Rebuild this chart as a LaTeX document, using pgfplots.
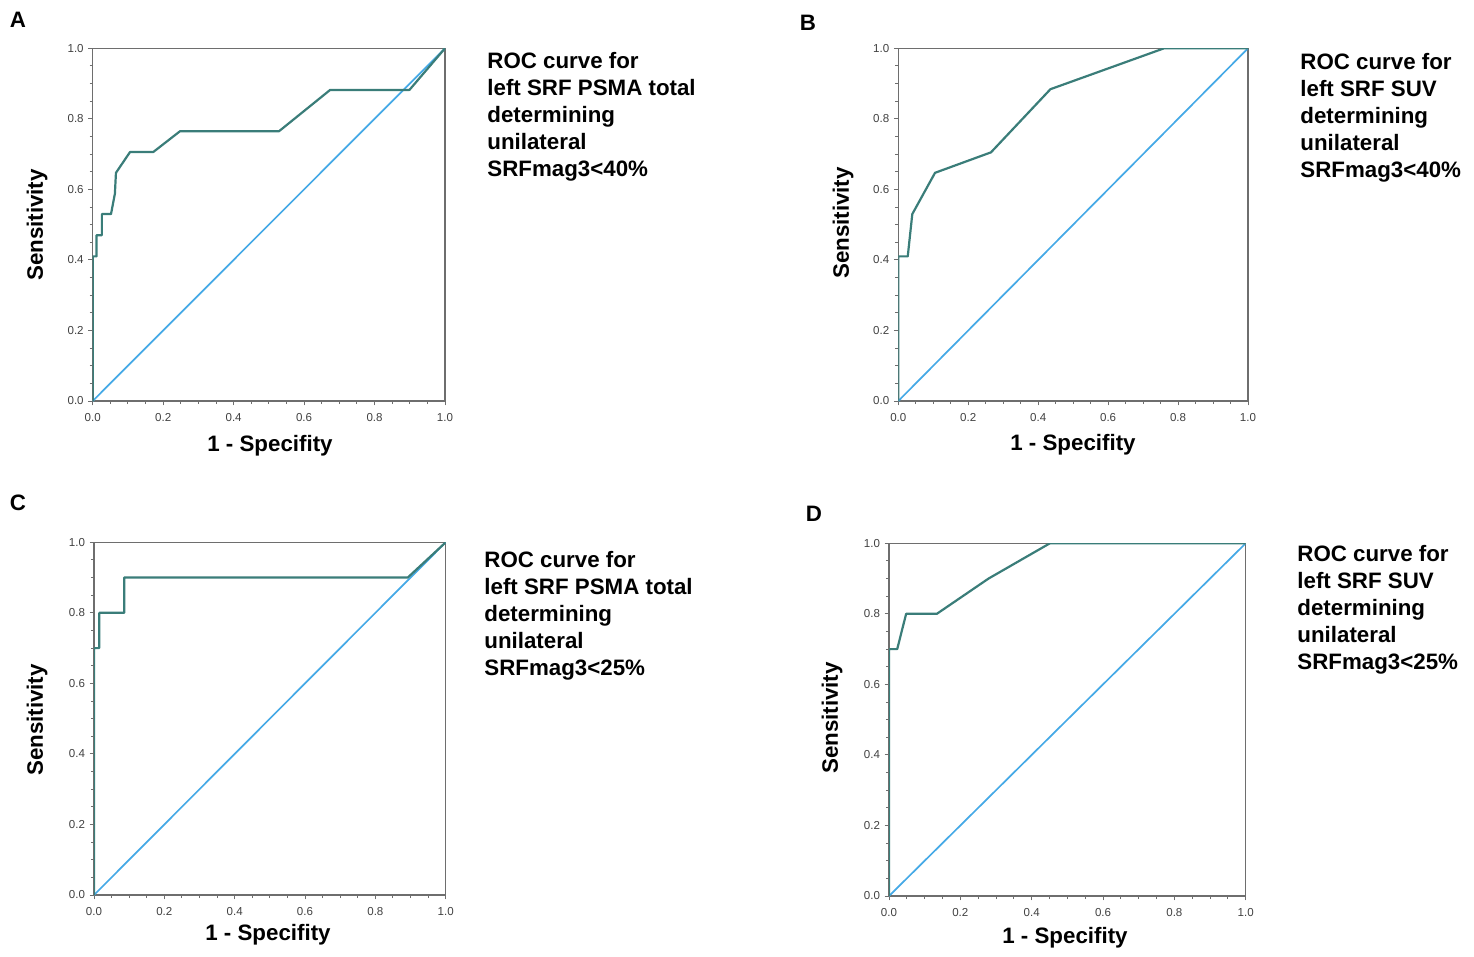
\documentclass[border=0pt]{standalone}
\usepackage{fontspec}
\setmainfont{Liberation Sans}
\usepackage{pgfplots}
\pgfplotsset{compat=1.18}
\definecolor{roc}{HTML}{3A7D79}
\definecolor{diag}{HTML}{45A9E6}
\definecolor{frame}{HTML}{6E6E6E}
\pgfplotsset{
  rocaxis/.style={
    scale only axis,
    xmin=0, xmax=1, ymin=0, ymax=1,
    xtick={0,0.2,0.4,0.6,0.8,1.0},
    ytick={0,0.2,0.4,0.6,0.8,1.0},
    minor x tick num=3, minor y tick num=3,
    tick align=outside, tick pos=left,
    major tick length=2.2bp, minor tick length=1.6bp,
    axis line style={frame, line width=0.6bp},
    every tick/.style={frame, line width=0.5bp},
    tick label style={font=\fontsize{5.8}{6}\selectfont, text=black!75},
    xticklabel style={yshift=-0.3bp},
    yticklabel style={xshift=1.2bp},
    /pgf/number format/assume math mode=true,
    /pgf/number format/fixed,
    /pgf/number format/fixed zerofill,
    /pgf/number format/precision=1,
  },
  rocline/.style={color=roc, line width=1.1bp, line join=round},
  diagline/.style={color=diag, line width=0.85bp},
}
\newcommand{\labfont}{\fontsize{11.2}{13.5}\selectfont\bfseries}
\begin{document}
\begin{tikzpicture}[x=0.5bp, y=0.5bp]
\path[use as bounding box] (0,0) rectangle (1474,-956);
\coordinate (pA) at (92.7,-401);
\coordinate (pB) at (898.3,-401);
\coordinate (pC) at (94,-895);
\coordinate (pD) at (889,-896);

% Panel A
\begin{axis}[rocaxis, at={(pA)}, anchor=south west, width=176.15bp, height=176.35bp]
\addplot[diagline] coordinates {(0,0) (1,1)};
\addplot[rocline] coordinates {
(0,0) (0,0.41) (0.011,0.41) (0.011,0.47) (0.026,0.47) (0.026,0.53) (0.052,0.53)
(0.063,0.588) (0.066,0.647) (0.106,0.706) (0.172,0.706) (0.248,0.765) (0.529,0.765)
(0.674,0.882) (0.899,0.882) (1,1)};
\end{axis}

% Panel B
\begin{axis}[rocaxis, at={(pB)}, anchor=south west, width=174.85bp, height=176.35bp]
\addplot[diagline] coordinates {(0,0) (1,1)};
\addplot[rocline] coordinates {
(0,0) (0,0.41) (0.027,0.41) (0.04,0.53) (0.105,0.647) (0.265,0.705)
(0.435,0.884) (0.76,1) (1,1)};
\end{axis}

% Panel C
\begin{axis}[rocaxis, at={(pC)}, anchor=south west, width=175.85bp, height=176.35bp]
\addplot[diagline] coordinates {(0,0) (1,1)};
\addplot[rocline] coordinates {
(0,0) (0,0.70) (0.015,0.70) (0.015,0.80) (0.086,0.80) (0.086,0.90)
(0.892,0.90) (1,1)};
\end{axis}

% Panel D
\begin{axis}[rocaxis, at={(pD)}, anchor=south west, width=178.35bp, height=176.35bp]
\addplot[diagline] coordinates {(0,0) (1,1)};
\addplot[rocline] coordinates {
(0,0) (0,0.70) (0.023,0.70) (0.048,0.80) (0.134,0.80) (0.279,0.90)
(0.451,1) (1,1)};
\end{axis}

% Panel letters
\node[font=\labfont] at (18,-20) {A};
\node[font=\labfont] at (808,-23) {B};
\node[font=\labfont] at (18,-503) {C};
\node[font=\labfont] at (814,-514) {D};

% Axis labels
\node[font=\labfont, rotate=90] at (37,-225) {Sensitivity};
\node[font=\labfont, rotate=90] at (843,-223) {Sensitivity};
\node[font=\labfont, rotate=90] at (37,-720) {Sensitivity};
\node[font=\labfont, rotate=90] at (832,-718) {Sensitivity};
\node[font=\labfont] at (270,-446) {1 - Specifity};
\node[font=\labfont] at (1073,-445) {1 - Specifity};
\node[font=\labfont] at (268,-935) {1 - Specifity};
\node[font=\labfont] at (1065,-938) {1 - Specifity};

% Titles
\node[font=\labfont, align=left, anchor=north west, inner sep=0pt] at (487,-52)
  {ROC curve for\\left SRF PSMA total\\determining\\unilateral\\SRFmag3<40\%};
\node[font=\labfont, align=left, anchor=north west, inner sep=0pt] at (1300,-53)
  {ROC curve for\\left SRF SUV\\determining\\unilateral\\SRFmag3<40\%};
\node[font=\labfont, align=left, anchor=north west, inner sep=0pt] at (484,-551)
  {ROC curve for\\left SRF PSMA total\\determining\\unilateral\\SRFmag3<25\%};
\node[font=\labfont, align=left, anchor=north west, inner sep=0pt] at (1297,-545)
  {ROC curve for\\left SRF SUV\\determining\\unilateral\\SRFmag3<25\%};
\end{tikzpicture}
\end{document}
